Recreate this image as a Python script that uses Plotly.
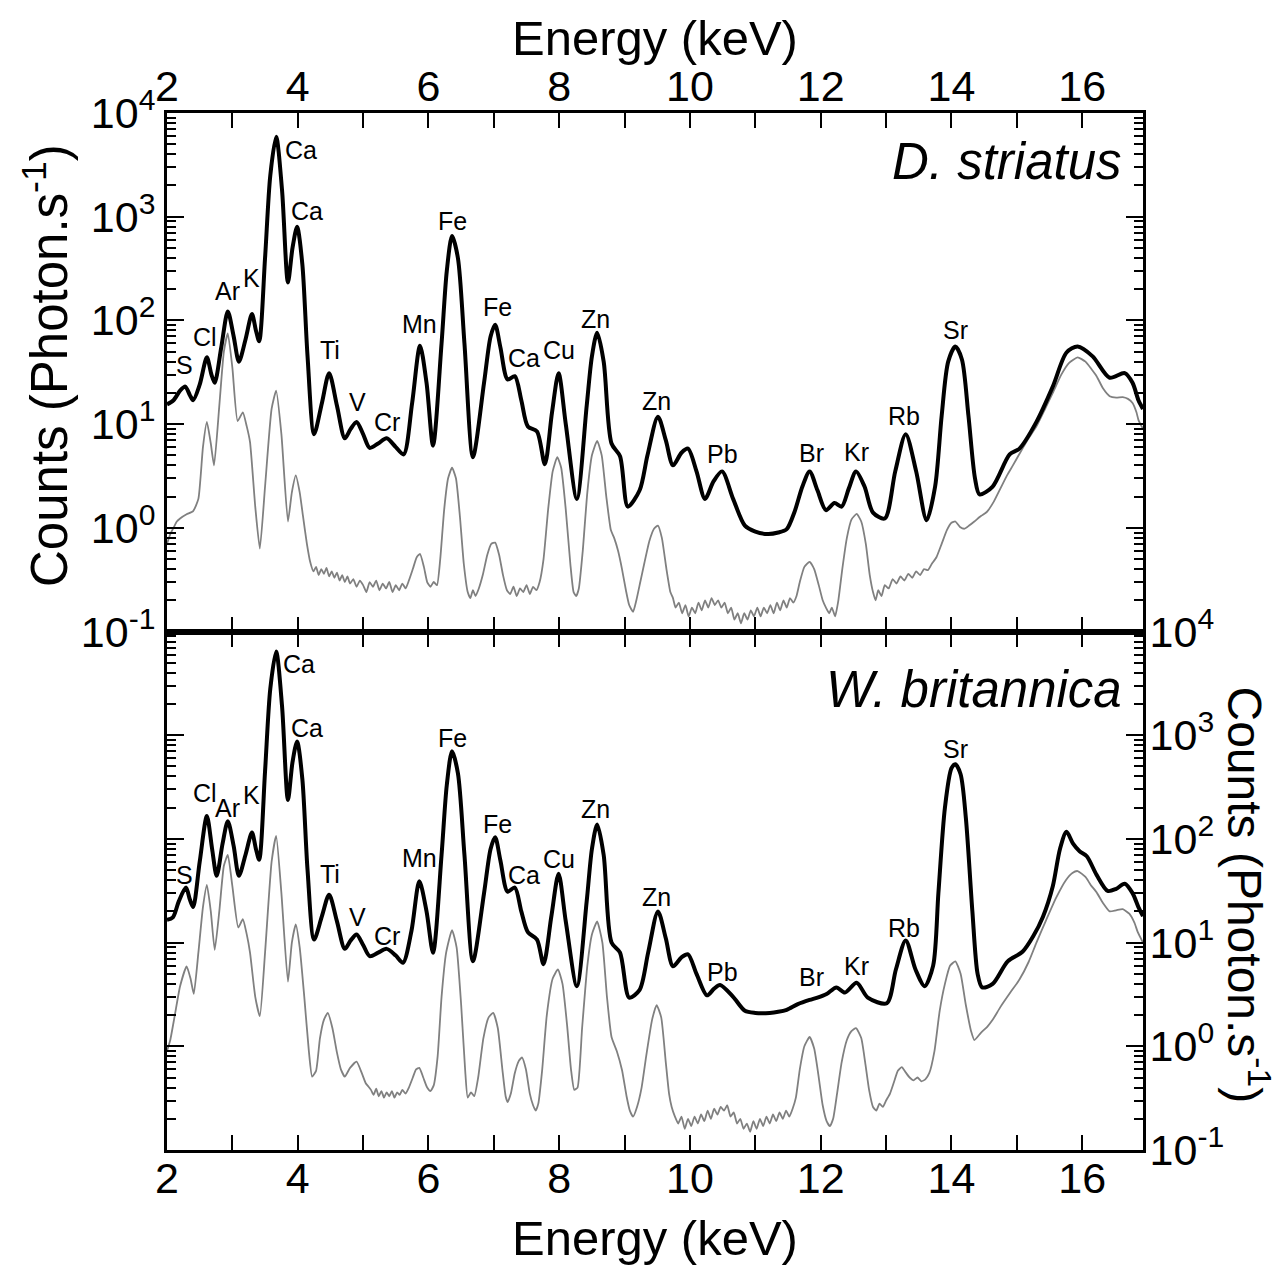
import numpy as np
import plotly.graph_objects as go

# ---------------- data ----------------
# D. striatus (top panel) - black spectrum
E_ds = [2.00, 2.10, 2.20, 2.28, 2.35, 2.40, 2.50, 2.61, 2.68, 2.73, 2.83, 2.93, 3.02, 3.10, 3.20, 3.30, 3.36, 3.41,
        3.50, 3.58, 3.67, 3.76, 3.85, 3.92, 3.99, 4.07, 4.15, 4.25, 4.37, 4.48, 4.60, 4.72, 4.81, 4.90, 5.00, 5.10,
        5.23, 5.36, 5.50, 5.62, 5.75, 5.87, 5.97, 6.07, 6.20, 6.28, 6.36, 6.45, 6.55, 6.68, 6.85, 6.95, 7.02, 7.10,
        7.21, 7.32, 7.42, 7.52, 7.66, 7.78, 7.89, 7.99, 8.10, 8.27, 8.42, 8.50, 8.58, 8.68, 8.80, 8.93, 9.05, 9.23,
        9.35, 9.51, 9.63, 9.74, 9.87, 9.97, 10.10, 10.23, 10.36, 10.49, 10.66, 10.84, 11.00, 11.19, 11.35, 11.48,
        11.60, 11.72, 11.83, 11.95, 12.08, 12.21, 12.32, 12.43, 12.54, 12.67, 12.80, 12.98, 13.14, 13.30, 13.46,
        13.62, 13.75, 13.85, 13.95, 14.06, 14.16, 14.26, 14.36, 14.43, 14.63, 14.89, 15.04, 15.30, 15.55, 15.76,
        15.93, 16.16, 16.42, 16.65, 16.77, 16.86, 16.93]
C_ds = [15.5, 17, 21, 23, 19, 17, 24, 44, 30, 25, 55, 122, 70, 40, 65, 115, 80, 63,
        400, 2500, 5900, 1800, 232, 500, 800, 350, 45, 8.0, 16, 31, 15, 7.3, 9, 10.5, 8, 5.9,
        6.5, 7.3, 6, 5.1, 16, 57, 25, 6.2, 60, 300, 650, 400, 60, 4.8, 25, 70, 91, 55,
        27, 29, 17, 9.5, 8.5, 4.1, 13, 31, 10, 1.9, 15, 45, 76, 40, 6.5, 4.9, 1.6, 2.3,
        5, 11.8, 7, 4.0, 5.3, 5.8, 3.5, 1.9, 2.8, 3.5, 1.9, 1.05, 0.92, 0.87, 0.9, 0.97,
        1.43, 2.5, 3.5, 2.3, 1.48, 1.73, 1.6, 2.4, 3.5, 2.5, 1.4, 1.23, 3.5, 8.0, 3.5,
        1.18, 2.5, 12, 40, 56, 42, 12, 3, 2.1, 2.5, 5.1, 5.8, 10.5, 23, 49,
        56, 45, 28, 31, 25, 17, 14]

# D. striatus panel - grey spectrum
E_ds_g = [2.00, 2.05, 2.10, 2.15, 2.20, 2.30, 2.40, 2.48, 2.55, 2.61, 2.67, 2.72, 2.80, 2.87, 2.93, 3.00, 3.08, 3.16,
          3.22, 3.27, 3.35, 3.42, 3.50, 3.60, 3.67, 3.75, 3.85, 3.91, 3.97, 4.03, 4.08, 4.14, 4.19, 4.24,
          4.28, 4.32, 4.36, 4.40, 4.44, 4.48, 4.52, 4.56, 4.60, 4.64, 4.68, 4.72, 4.76, 4.80, 4.85, 4.90, 4.95,
          5.00, 5.05, 5.10, 5.15, 5.20, 5.25, 5.30, 5.35, 5.40, 5.45, 5.50, 5.55, 5.60, 5.65, 5.70, 5.76, 5.82,
          5.87, 5.93, 5.98, 6.03, 6.08, 6.13, 6.18, 6.24, 6.30, 6.36, 6.42, 6.48, 6.54, 6.60, 6.64, 6.68, 6.72,
          6.77, 6.83, 6.90, 6.96, 7.02, 7.08, 7.14, 7.20, 7.25, 7.30, 7.35, 7.40, 7.45, 7.50, 7.55, 7.60, 7.65,
          7.70, 7.76, 7.83, 7.90, 7.97, 8.03, 8.10, 8.17, 8.22, 8.26, 8.30, 8.36, 8.43, 8.50, 8.58, 8.65, 8.72,
          8.79, 8.84, 8.90, 8.96, 9.02, 9.07, 9.13, 9.18, 9.24, 9.30, 9.38, 9.45, 9.51, 9.57, 9.64, 9.70, 9.74,
          9.78, 9.83, 9.88, 9.93, 9.98, 10.03, 10.08, 10.13, 10.18, 10.23, 10.28, 10.33, 10.38, 10.43, 10.48,
          10.53, 10.58, 10.63, 10.68, 10.73, 10.78, 10.83, 10.88, 10.93, 10.98, 11.03, 11.08, 11.13, 11.18,
          11.23, 11.28, 11.33, 11.38, 11.43, 11.48, 11.53, 11.58, 11.63, 11.68, 11.75, 11.83, 11.90, 11.97,
          12.03, 12.08, 12.13, 12.17, 12.22, 12.27, 12.33, 12.40, 12.47, 12.55, 12.62, 12.69, 12.75, 12.80,
          12.84, 12.88, 12.93, 12.98, 13.04, 13.10, 13.16, 13.22, 13.28, 13.34, 13.40, 13.46, 13.52, 13.58,
          13.64, 13.70, 13.77, 13.85, 13.93, 14.00, 14.06, 14.13, 14.20, 14.27, 14.35, 14.45, 14.54, 14.65,
          14.75, 14.85, 14.94, 15.05, 15.18, 15.30, 15.42, 15.55, 15.68, 15.80, 15.93, 16.05, 16.14, 16.22,
          16.32, 16.42, 16.52, 16.62, 16.70, 16.77, 16.83, 16.86, 16.93]
C_ds_g = [0.70, 0.87, 1.0, 1.15, 1.23, 1.35, 1.45, 1.9, 6, 10.5, 6.5, 4, 15, 50, 75, 35, 10.7, 13,
          9.5, 6.7, 1.6, 0.63, 2.5, 14, 21, 8, 1.15, 2.2, 3.2, 2.2, 1.3, 0.7, 0.47, 0.38,
          0.42, 0.35, 0.40, 0.36, 0.41, 0.34, 0.38, 0.33, 0.37, 0.31, 0.35, 0.30, 0.34, 0.29, 0.32, 0.27, 0.31,
          0.28, 0.24, 0.30, 0.27, 0.31, 0.25, 0.29, 0.26, 0.30, 0.24, 0.28, 0.25, 0.29, 0.26, 0.31, 0.40, 0.52,
          0.56, 0.42, 0.30, 0.27, 0.30, 0.28, 0.5, 1.5, 3.0, 3.8, 3.0, 1.3, 0.45, 0.24, 0.21, 0.25, 0.22,
          0.26, 0.35, 0.55, 0.70, 0.72, 0.55, 0.35, 0.25, 0.23, 0.27, 0.22, 0.26, 0.24, 0.28, 0.23, 0.27, 0.25,
          0.30, 0.5, 1.5, 3.5, 4.8, 3.8, 1.5, 0.45, 0.24, 0.22, 0.26, 0.6, 2.2, 5.0, 6.9, 5.0, 2.0,
          0.95, 0.8, 0.6, 0.4, 0.25, 0.18, 0.155, 0.2, 0.3, 0.45, 0.75, 0.98, 1.05, 0.8, 0.4, 0.24, 0.21,
          0.17, 0.19, 0.15, 0.18, 0.14, 0.17, 0.15, 0.19, 0.16, 0.20, 0.17, 0.21, 0.18, 0.20, 0.17,
          0.19, 0.15, 0.17, 0.13, 0.15, 0.12, 0.15, 0.13, 0.16, 0.14, 0.17, 0.14, 0.17, 0.15,
          0.18, 0.15, 0.19, 0.16, 0.20, 0.17, 0.21, 0.19, 0.22, 0.30, 0.42, 0.47, 0.40, 0.28,
          0.20, 0.17, 0.15, 0.17, 0.14, 0.20, 0.4, 0.8, 1.2, 1.36, 1.15, 0.7, 0.35, 0.24,
          0.20, 0.25, 0.22, 0.28, 0.26, 0.32, 0.29, 0.34, 0.31, 0.36, 0.33, 0.38, 0.35, 0.40,
          0.39, 0.45, 0.52, 0.7, 0.95, 1.12, 1.15, 1.02, 0.98, 1.05, 1.15, 1.3, 1.42, 1.8,
          2.4, 3.2, 4.0, 5.3, 7.3, 9.5, 13.5, 20, 30, 39, 44, 40, 34, 29,
          22, 18.6, 18, 18.2, 17.5, 16, 13, 11, 9]

# W. britannica (bottom panel) - black spectrum
E_wb = [2.00, 2.09, 2.18, 2.29, 2.35, 2.40, 2.50, 2.61, 2.69, 2.76, 2.85, 2.93, 3.02, 3.10, 3.20, 3.30, 3.36, 3.41,
        3.50, 3.58, 3.67, 3.76, 3.85, 3.92, 3.99, 4.07, 4.15, 4.25, 4.37, 4.48, 4.60, 4.72, 4.81, 4.90, 5.00, 5.10,
        5.23, 5.36, 5.50, 5.61, 5.74, 5.86, 5.97, 6.07, 6.20, 6.28, 6.36, 6.45, 6.55, 6.68, 6.85, 6.95, 7.02, 7.10,
        7.21, 7.32, 7.42, 7.52, 7.66, 7.76, 7.88, 7.99, 8.10, 8.27, 8.42, 8.50, 8.58, 8.68, 8.80, 8.93, 9.07, 9.23,
        9.36, 9.51, 9.63, 9.74, 9.87, 9.97, 10.10, 10.26, 10.37, 10.46, 10.66, 10.84, 11.00, 11.22, 11.35, 11.48,
        11.65, 11.83, 11.95, 12.09, 12.24, 12.37, 12.55, 12.72, 13.01, 13.15, 13.30, 13.45, 13.59, 13.72, 13.80,
        13.90, 14.00, 14.06, 14.14, 14.22, 14.32, 14.40, 14.47, 14.63, 14.86, 15.09, 15.25, 15.40, 15.55, 15.66,
        15.76, 15.86, 15.96, 16.07, 16.22, 16.39, 16.52, 16.65, 16.77, 16.86, 16.93]
C_wb = [16.6, 17.5, 25, 34, 26, 22, 60, 166, 80, 44, 90, 148, 85, 44, 70, 115, 80, 63,
        450, 2800, 6400, 1900, 237, 550, 870, 380, 50, 10.7, 18, 29, 16, 8.7, 10.5, 12, 9.5, 7.4,
        8, 8.7, 7.5, 6.4, 13, 39, 20, 8.0, 70, 330, 700, 430, 70, 6.6, 30, 80, 104, 62,
        31, 34, 20, 12.6, 10.7, 6.2, 18, 46, 16, 3.8, 25, 80, 138, 70, 10, 8.0, 2.95, 3.5,
        8, 20, 11, 5.9, 7.2, 7.7, 5, 3.1, 3.6, 3.9, 3.0, 2.2, 2.1, 2.1, 2.15, 2.25,
        2.55, 2.8, 2.95, 3.2, 3.7, 3.3, 4.1, 2.95, 2.6, 5.5, 10.5, 5.5, 3.8, 6, 30,
        200, 480, 525, 420, 160, 20, 5, 3.7, 4.0, 6.6, 8.2, 11.5, 17.8, 35, 80,
        117, 90, 76, 68, 45, 31.5, 33, 37, 30, 22, 18]

# W. britannica panel - grey spectrum
E_wb_g = [2.00, 2.05, 2.12, 2.20, 2.30, 2.36, 2.41, 2.48, 2.55, 2.61, 2.67, 2.73, 2.80, 2.87, 2.93, 3.00, 3.09, 3.16,
          3.22, 3.27, 3.35, 3.42, 3.50, 3.60, 3.67, 3.75, 3.85, 3.91, 3.97, 4.03, 4.10, 4.17, 4.22, 4.28, 4.34,
          4.40, 4.46, 4.53, 4.60, 4.66, 4.72, 4.80, 4.90, 4.98, 5.04, 5.08, 5.12, 5.16, 5.20, 5.24, 5.28, 5.32,
          5.36, 5.40, 5.44, 5.48, 5.52, 5.56, 5.60, 5.65, 5.70, 5.76, 5.81, 5.86, 5.92, 5.98, 6.03, 6.08, 6.14,
          6.20, 6.27, 6.36, 6.43, 6.50, 6.56, 6.60, 6.65, 6.70, 6.76, 6.84, 6.92, 6.99, 7.06, 7.13, 7.18, 7.21,
          7.26, 7.32, 7.38, 7.43, 7.49, 7.55, 7.60, 7.64, 7.68, 7.74, 7.81, 7.90, 7.98, 8.05, 8.12, 8.18, 8.23,
          8.28, 8.35, 8.43, 8.50, 8.58, 8.66, 8.73, 8.80, 8.88, 8.96, 9.03, 9.08, 9.13, 9.19, 9.26, 9.33, 9.42,
          9.49, 9.56, 9.63, 9.68, 9.72, 9.77, 9.82, 9.87, 9.92, 9.97, 10.02, 10.07, 10.12, 10.17, 10.22, 10.27,
          10.32, 10.37, 10.42, 10.47, 10.52, 10.57, 10.62, 10.67, 10.72, 10.77, 10.82, 10.87, 10.92, 10.97,
          11.02, 11.07, 11.12, 11.17, 11.22, 11.27, 11.32, 11.37, 11.42, 11.47, 11.52, 11.57, 11.62, 11.68,
          11.75, 11.83, 11.90, 11.97, 12.03, 12.09, 12.14, 12.19, 12.25, 12.32, 12.40, 12.47, 12.54, 12.62,
          12.68, 12.74, 12.80, 12.85, 12.90, 12.95, 13.00, 13.06, 13.12, 13.18, 13.24, 13.30, 13.36, 13.42,
          13.48, 13.54, 13.60, 13.66, 13.74, 13.82, 13.90, 13.98, 14.06, 14.14, 14.22, 14.30, 14.35, 14.45,
          14.55, 14.63, 14.75, 14.90, 15.04, 15.18, 15.30, 15.45, 15.60, 15.75, 15.85, 15.93, 16.05, 16.13,
          16.22, 16.32, 16.42, 16.52, 16.62, 16.72, 16.80, 16.85, 16.93]
C_wb_g = [0.9, 1.15, 2.0, 3.8, 5.9, 4.5, 3.2, 8, 22, 36, 20, 8.5, 20, 55, 70, 35, 14, 16.8,
          12, 8, 3, 1.95, 8, 60, 107, 30, 4.2, 10, 15, 9, 3, 0.9, 0.51, 0.58, 1.2,
          1.8, 2.1, 1.5, 0.87, 0.6, 0.51, 0.62, 0.71, 0.55, 0.44, 0.41, 0.38, 0.34, 0.39, 0.33, 0.37, 0.32,
          0.36, 0.33, 0.37, 0.32, 0.36, 0.34, 0.38, 0.35, 0.40, 0.5, 0.6, 0.62, 0.5, 0.4, 0.37, 0.42, 0.8,
          3, 8, 13.2, 9, 2.5, 0.6, 0.32, 0.36, 0.33, 0.5, 1.2, 1.9, 2.1, 1.5, 0.6, 0.33, 0.29,
          0.35, 0.55, 0.72, 0.78, 0.6, 0.35, 0.27, 0.24, 0.28, 0.6, 2, 4.5, 5.5, 4, 1.6, 0.6, 0.38,
          0.4, 1.5, 6, 12, 16, 10, 3, 1.23, 0.9, 0.59, 0.33, 0.24, 0.21, 0.26, 0.4, 0.8, 1.8,
          2.5, 1.9, 0.7, 0.35, 0.26, 0.21, 0.18, 0.21, 0.16, 0.20, 0.17, 0.21, 0.18, 0.22, 0.19, 0.24,
          0.20, 0.25, 0.22, 0.26, 0.24, 0.27, 0.21, 0.23, 0.18, 0.20, 0.16, 0.18, 0.15, 0.19,
          0.16, 0.20, 0.17, 0.21, 0.18, 0.22, 0.19, 0.23, 0.20, 0.24, 0.21, 0.25, 0.32, 0.6,
          1.0, 1.23, 0.95, 0.5, 0.27, 0.19, 0.17, 0.20, 0.35, 0.7, 1.15, 1.4, 1.5, 1.2,
          0.7, 0.38, 0.26, 0.24, 0.28, 0.26, 0.30, 0.35, 0.45, 0.58, 0.63, 0.56, 0.50, 0.47,
          0.50, 0.46, 0.48, 0.55, 0.9, 2.2, 4, 6, 6.6, 5, 2.5, 1.4, 1.15, 1.35,
          1.55, 1.8, 2.4, 3.3, 4.4, 6.5, 10, 16.6, 27, 40, 47, 49, 43, 36,
          30.5, 24, 20, 20.5, 21, 19, 15.5, 12.6, 10]

# peak labels: (text, energy keV, count level)
lab_ds = [("S", 2.26, 36.9), ("Cl", 2.58, 68.7), ("Ar", 2.93, 194), ("K", 3.30, 254), ("Ca", 4.05, 4400),
          ("Ca", 4.14, 1140), ("Ti", 4.49, 51.5), ("V", 4.92, 16.3), ("Cr", 5.36, 10.4), ("Mn", 5.87, 91.6),
          ("Fe", 6.36, 916), ("Fe", 7.05, 136), ("Ca", 7.46, 43.2), ("Cu", 7.99, 51.5), ("Zn", 8.56, 104),
          ("Zn", 9.49, 16.6), ("Pb", 10.49, 5.15), ("Br", 11.86, 5.26), ("Kr", 12.55, 5.38), ("Rb", 13.28, 11.9),
          ("Sr", 14.06, 80.2)]
lab_wb = [("S", 2.26, 44.7), ("Cl", 2.58, 277), ("Ar", 2.93, 199), ("K", 3.30, 265), ("Ca", 4.02, 4910),
          ("Ca", 4.14, 1180), ("Ti", 4.49, 45.7), ("V", 4.92, 17.5), ("Cr", 5.36, 11.7), ("Mn", 5.87, 65.2),
          ("Fe", 6.36, 944), ("Fe", 7.05, 139), ("Ca", 7.46, 44.7), ("Cu", 7.99, 63.8), ("Zn", 8.56, 194),
          ("Zn", 9.49, 27.4), ("Pb", 10.49, 5.15), ("Br", 11.86, 4.71), ("Kr", 12.55, 5.89), ("Rb", 13.28, 13.7),
          ("Sr", 14.06, 738)]

x_major = [2, 4, 6, 8, 10, 12, 14, 16]
x_minor = [3, 5, 7, 9, 11, 13, 15]
y_major = [0.1, 1, 10, 100, 1000, 10000]
y_text = ["10<sup>-1</sup>", "10<sup>0</sup>", "10<sup>1</sup>", "10<sup>2</sup>", "10<sup>3</sup>", "10<sup>4</sup>"]
y_minor = [m * 10.0 ** k for k in range(-1, 4) for m in range(2, 10)]

# ---------------- figure ----------------
FONT = "Liberation Sans, Arial, sans-serif"
BLACK_W = 4
GREY = "#808080"
TICK_SIZE = 43

fig = go.Figure()
fig.add_trace(go.Scatter(x=E_ds_g, y=C_ds_g, xaxis="x2", yaxis="y2", mode="lines",
                         line=dict(color=GREY, width=1.8, shape="spline", smoothing=0.5)))
fig.add_trace(go.Scatter(x=E_ds, y=C_ds, xaxis="x2", yaxis="y2", mode="lines",
                         line=dict(color="black", width=BLACK_W, shape="spline", smoothing=0.8)))
fig.add_trace(go.Scatter(x=E_wb_g, y=C_wb_g, xaxis="x", yaxis="y", mode="lines",
                         line=dict(color=GREY, width=1.8, shape="spline", smoothing=0.5)))
fig.add_trace(go.Scatter(x=E_wb, y=C_wb, xaxis="x", yaxis="y", mode="lines",
                         line=dict(color="black", width=BLACK_W, shape="spline", smoothing=0.8)))

annotations = []
for txt, e, c in lab_ds:
    annotations.append(dict(x=e, y=np.log10(c), xref="x2", yref="y2", text=txt, showarrow=False,
                            font=dict(size=25, color="black", family=FONT)))
for txt, e, c in lab_wb:
    annotations.append(dict(x=e, y=np.log10(c), xref="x", yref="y", text=txt, showarrow=False,
                            font=dict(size=25, color="black", family=FONT)))

annotations += [
    dict(x=0.981, y=0.953, xref="paper", yref="paper", xanchor="right", yanchor="middle",
         text="<i>D. striatus</i>", showarrow=False, font=dict(size=51, color="black", family=FONT)),
    dict(x=0.981, y=0.4436, xref="paper", yref="paper", xanchor="right", yanchor="middle",
         text="<i>W. britannica</i>", showarrow=False, font=dict(size=51, color="black", family=FONT)),
    dict(x=0.5, y=1.072, xref="paper", yref="paper", text="Energy (keV)", showarrow=False,
         xanchor="center", yanchor="middle", font=dict(size=49, color="black", family=FONT)),
    dict(x=0.5, y=-0.085, xref="paper", yref="paper", text="Energy (keV)", showarrow=False,
         xanchor="center", yanchor="middle", font=dict(size=49, color="black", family=FONT)),
    dict(x=-0.124, y=0.757, xref="paper", yref="paper", text="Counts (Photon.s<sup>-1</sup>)", showarrow=False,
         textangle=-90, xanchor="center", yanchor="middle", font=dict(size=51, color="black", family=FONT)),
    dict(x=1.108, y=0.246, xref="paper", yref="paper", text="Counts (Photon.s<sup>-1</sup>)", showarrow=False,
         textangle=90, xanchor="center", yanchor="middle", font=dict(size=48, color="black", family=FONT)),
]

xcommon = dict(range=[2, 16.93], tickvals=x_major, ticks="inside", ticklen=15, tickwidth=1.5,
               tickcolor="black", showline=True, linewidth=3, linecolor="black", mirror="ticks",
               showgrid=False, zeroline=False, tickfont=dict(size=TICK_SIZE, color="black", family=FONT),
               minor=dict(tickvals=x_minor, ticks="inside", ticklen=15, tickwidth=1.5, tickcolor="black",
                          showgrid=False))
ycommon = dict(type="log", range=[-1, 4], tickvals=y_major, ticktext=y_text, ticks="inside", ticklen=17,
               tickwidth=1.5, tickcolor="black", showline=True, linewidth=3, linecolor="black",
               mirror="ticks", showgrid=False, zeroline=False,
               tickfont=dict(size=TICK_SIZE, color="black", family=FONT),
               minor=dict(tickvals=y_minor, ticks="inside", ticklen=9, tickwidth=1.5, tickcolor="black",
                          showgrid=False))

# the page is rendered with an 8px body margin, so shift margins accordingly
fig.update_layout(
    width=1286, height=1268,
    margin=dict(l=159, r=151, t=105, b=126),
    paper_bgcolor="white", plot_bgcolor="white",
    showlegend=False,
    font=dict(family=FONT, color="black"),
    xaxis=dict(anchor="y", side="bottom", ticklabelstandoff=-12, **xcommon),
    xaxis2=dict(anchor="y2", side="top", matches="x", ticklabelstandoff=-8, **xcommon),
    yaxis=dict(domain=[0, 0.5], anchor="x", side="right", ticklabelstandoff=-5, **ycommon),
    yaxis2=dict(domain=[0.5, 1], anchor="x2", side="left", **ycommon),
    annotations=annotations,
)

fig.write_html("out.html")
